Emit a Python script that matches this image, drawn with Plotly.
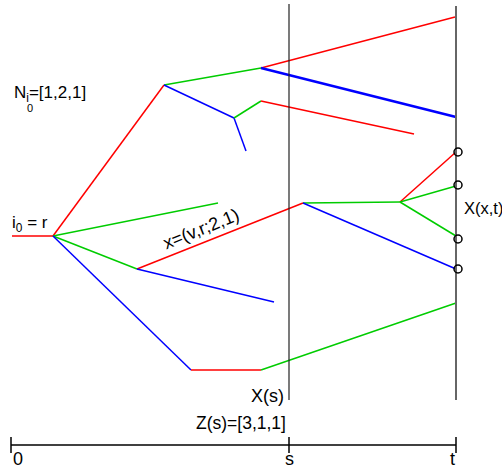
import plotly.graph_objects as go

# Branch segments (diagram units: x = time position, y = vertical position)
seg_x0 = [12, 53, 53, 53, 53, 191, 261, 164, 164, 261, 261, 234, 234, 261, 137, 137, 303, 303, 400, 400, 400]
seg_y0 = [236, 236, 236, 236, 236, 370, 370, 85, 85, 68, 68, 118, 118, 101, 269, 269, 203, 203, 202, 202, 202]
seg_x1 = [53, 164, 218, 137, 191, 261, 456, 261, 234, 455, 456, 246, 261, 414, 303, 274, 400, 456, 456, 456, 456]
seg_y1 = [236, 85, 203, 269, 370, 370, 303, 68, 118, 17, 117, 151, 101, 134, 203, 302, 202, 269, 152, 186, 236]
seg_col = ["red", "red", "green", "green", "blue", "red", "green", "green", "blue", "red", "blue",
           "blue", "green", "red", "red", "blue", "green", "blue", "red", "green", "green"]
seg_w = [1.5] * 21
seg_w[10] = 2.6

colors = {"red": "#ff0000", "green": "#00cc00", "blue": "#0000ff"}

# Endpoint circles at time t
end_x = [458, 458, 458, 458]
end_y = [152, 185, 239, 269]

# Time marks
time_pos = [11, 289, 456]
time_lbl = ["0", "s", "t"]
axis_y = 445

fig = go.Figure()
for x0, y0, x1, y1, c, w in zip(seg_x0, seg_y0, seg_x1, seg_y1, seg_col, seg_w):
    fig.add_trace(go.Scatter(x=[x0, x1], y=[y0, y1], mode="lines",
                             line=dict(color=colors[c], width=w), hoverinfo="skip"))

# vertical lines at s and t
fig.add_trace(go.Scatter(x=[time_pos[1], time_pos[1]], y=[4, 400], mode="lines",
                         line=dict(color="#222222", width=1.2), hoverinfo="skip"))
fig.add_trace(go.Scatter(x=[time_pos[2], time_pos[2]], y=[6, 400], mode="lines",
                         line=dict(color="#666666", width=2), hoverinfo="skip"))

fig.add_trace(go.Scatter(x=end_x, y=end_y, mode="markers",
                         marker=dict(symbol="circle-open", size=8, color="black",
                                     line=dict(width=1.5)), hoverinfo="skip"))

# time axis
fig.add_trace(go.Scatter(x=[time_pos[0], time_pos[2]], y=[axis_y, axis_y], mode="lines",
                         line=dict(color="black", width=1.5), hoverinfo="skip"))
for tp, lb in zip(time_pos, time_lbl):
    fig.add_trace(go.Scatter(x=[tp, tp], y=[437, 453], mode="lines",
                             line=dict(color="black", width=1.5), hoverinfo="skip"))

fam = "Liberation Sans, Arial"
ann = [
    dict(x=time_pos[0] + 7, y=459, text=time_lbl[0], size=18),
    dict(x=time_pos[1], y=459, text=time_lbl[1], size=18),
    dict(x=time_pos[2] - 4, y=459, text=time_lbl[2], size=18),
    dict(x=285, y=396, text="X(s)", xanchor="right", size=18),
    dict(x=287, y=423, text="Z(s)=[3,1,1]", xanchor="right", size=17.5),
    dict(x=463, y=208, text="X(x,t)", xanchor="left", size=16.5),
    dict(x=11, y=224, text="i<sub>0</sub> = r", xanchor="left", size=17),
    dict(x=13, y=94, text="N<sub>i</sub>=[1,2,1]", xanchor="left", size=17),
    dict(x=30, y=108, text="0", size=11),
    dict(x=201, y=229, text="x=(v,r;2,1)", textangle=-22, size=18),
]
for a in ann:
    fig.add_annotation(x=a["x"], y=a["y"], text=a["text"], xanchor=a.get("xanchor", "center"),
                       yanchor="middle", showarrow=False,
                       font=dict(family=fam, size=a["size"], color="black"),
                       textangle=a.get("textangle", 0), borderpad=0)

fig.update_layout(width=502, height=472, margin=dict(l=0, r=0, t=0, b=0),
                  paper_bgcolor="white", plot_bgcolor="white", showlegend=False,
                  xaxis=dict(range=[0, 502], visible=False, fixedrange=True),
                  yaxis=dict(range=[472, 0], visible=False, fixedrange=True))
fig.write_html("out.html", config={"displayModeBar": False},
               post_script="document.body.style.margin='0';document.body.style.overflow='hidden';")
